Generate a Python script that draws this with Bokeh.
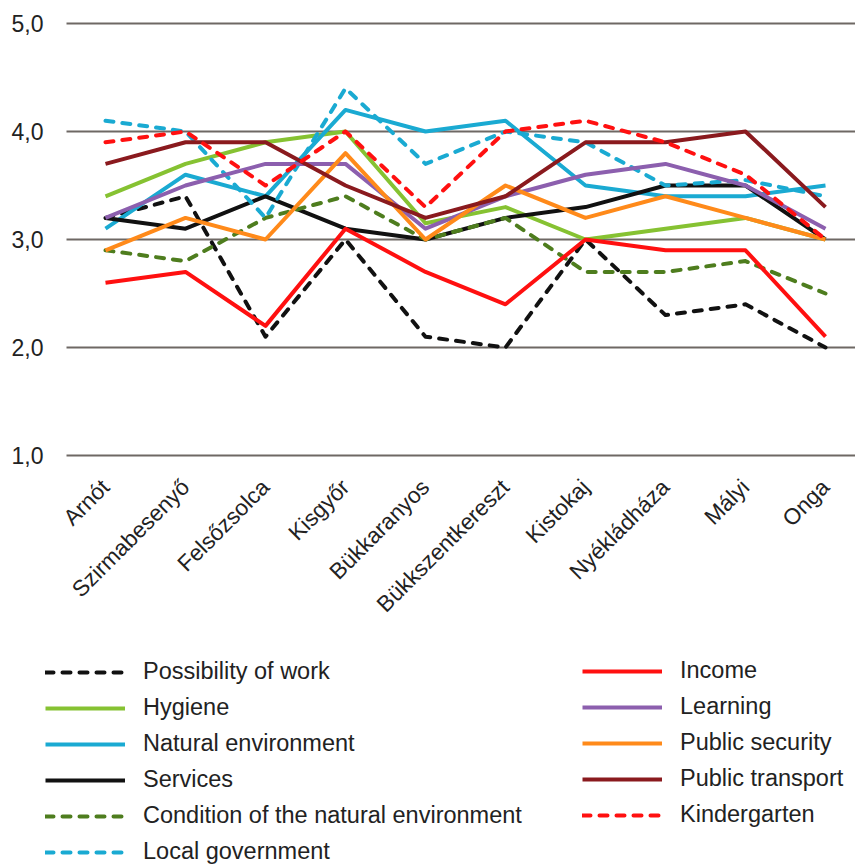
from bokeh.plotting import figure
from bokeh.models import Range1d, FixedTicker, Legend, LegendItem
from bokeh.embed import file_html
from bokeh.resources import INLINE
import math

towns = ["Arnót", "Szirmabesenyő", "Felsőzsolca", "Kisgyőr", "Bükkaranyos",
         "Bükkszentkereszt", "Kistokaj", "Nyékládháza", "Mályi", "Onga"]

possibility_of_work = [3.2, 3.4, 2.1, 3.0, 2.1, 2.0, 3.0, 2.3, 2.4, 2.0]
hygiene = [3.4, 3.7, 3.9, 4.0, 3.15, 3.3, 3.0, 3.1, 3.2, 3.0]
natural_environment = [3.1, 3.6, 3.4, 4.2, 4.0, 4.1, 3.5, 3.4, 3.4, 3.5]
services = [3.2, 3.1, 3.4, 3.1, 3.0, 3.2, 3.3, 3.5, 3.5, 3.0]
condition_env = [2.9, 2.8, 3.2, 3.4, 3.0, 3.2, 2.7, 2.7, 2.8, 2.5]
local_government = [4.1, 4.0, 3.2, 4.4, 3.7, 4.0, 3.9, 3.5, 3.55, 3.4]
income = [2.6, 2.7, 2.2, 3.1, 2.7, 2.4, 3.0, 2.9, 2.9, 2.1]
learning = [3.2, 3.5, 3.7, 3.7, 3.1, 3.4, 3.6, 3.7, 3.5, 3.1]
public_security = [2.9, 3.2, 3.0, 3.8, 3.0, 3.5, 3.2, 3.4, 3.2, 3.0]
public_transport = [3.7, 3.9, 3.9, 3.5, 3.2, 3.4, 3.9, 3.9, 4.0, 3.3]
kindergarten = [3.9, 4.0, 3.5, 4.0, 3.3, 4.0, 4.1, 3.9, 3.6, 3.0]

y_ticks = [1.0, 2.0, 3.0, 4.0, 5.0]
y_tick_labels = ["1,0", "2,0", "3,0", "4,0", "5,0"]

series = [
    ("Possibility of work", possibility_of_work, "#111111", True),
    ("Hygiene", hygiene, "#86c232", False),
    ("Natural environment", natural_environment, "#1aaad2", False),
    ("Services", services, "#111111", False),
    ("Condition of the natural environment", condition_env, "#4e7d1e", True),
    ("Local government", local_government, "#1aaad2", True),
    ("Income", income, "#ff1010", False),
    ("Learning", learning, "#8c5fae", False),
    ("Public security", public_security, "#ff8a1a", False),
    ("Public transport", public_transport, "#8a1a1e", False),
    ("Kindergarten", kindergarten, "#ff1010", True),
]

x = list(range(len(towns)))

X_START, X_END = -1.3125, 9.375
PLOT_LEFT = -0.4875
Y_TOP, Y_BOTTOM = 5.213, -2.815
X_AXIS_AT = 0.954

p = figure(width=855, height=867, output_backend="svg", toolbar_location=None,
           x_range=Range1d(X_START, X_END), y_range=Range1d(Y_BOTTOM, Y_TOP),
           min_border_left=0, min_border_right=0, min_border_top=0,
           min_border_bottom=0)
p.outline_line_color = None
p.xgrid.grid_line_color = None
p.ygrid.grid_line_color = "#6e6864"
p.ygrid.grid_line_width = 2
p.ygrid.ticker = FixedTicker(ticks=y_ticks)
p.ygrid.cross_bounds = (PLOT_LEFT, X_END)

p.yaxis.fixed_location = PLOT_LEFT
p.yaxis.ticker = FixedTicker(ticks=y_ticks)
p.yaxis.major_label_overrides = {t: l for t, l in zip(y_ticks, y_tick_labels)}
p.yaxis.axis_line_color = None
p.yaxis.major_tick_line_color = None
p.yaxis.minor_tick_line_color = None
p.yaxis.major_label_text_font = "Liberation Sans"
p.yaxis.major_label_text_font_size = "23px"
p.yaxis.major_label_text_color = "#222222"
p.yaxis.major_label_standoff = 17

p.xaxis.fixed_location = X_AXIS_AT
p.xaxis.ticker = FixedTicker(ticks=x)
p.xaxis.major_label_overrides = {i: t for i, t in zip(x, towns)}
p.xaxis.major_label_orientation = math.pi / 4
p.xaxis.axis_line_color = None
p.xaxis.major_tick_line_color = None
p.xaxis.minor_tick_line_color = None
p.xaxis.major_label_text_font = "Liberation Sans"
p.xaxis.major_label_text_font_size = "22.5px"
p.xaxis.major_label_text_color = "#222222"
p.xaxis.major_label_standoff = 17

items = []
for name, vals, color, dashed in series:
    r = p.line(x, vals, line_color=color, line_width=4,
               line_dash="8 9" if dashed else "solid",
               line_cap="round" if dashed else "butt", line_join="round")
    items.append(LegendItem(label=name, renderers=[r]))

common = dict(glyph_width=80, glyph_height=20, label_height=20,
              label_standoff=18, spacing=9, padding=0, margin=0,
              label_text_font="Liberation Sans", label_text_font_size="23.5px",
              label_text_color="#222222", background_fill_alpha=0,
              border_line_alpha=0)
legend_left = Legend(items=items[:6], location=(45, 2), **common)
legend_right = Legend(items=items[6:], location=(582, 39), **common)
p.add_layout(legend_left, "center")
p.add_layout(legend_right, "center")

open("out.html", "w").write(file_html(p, INLINE))
